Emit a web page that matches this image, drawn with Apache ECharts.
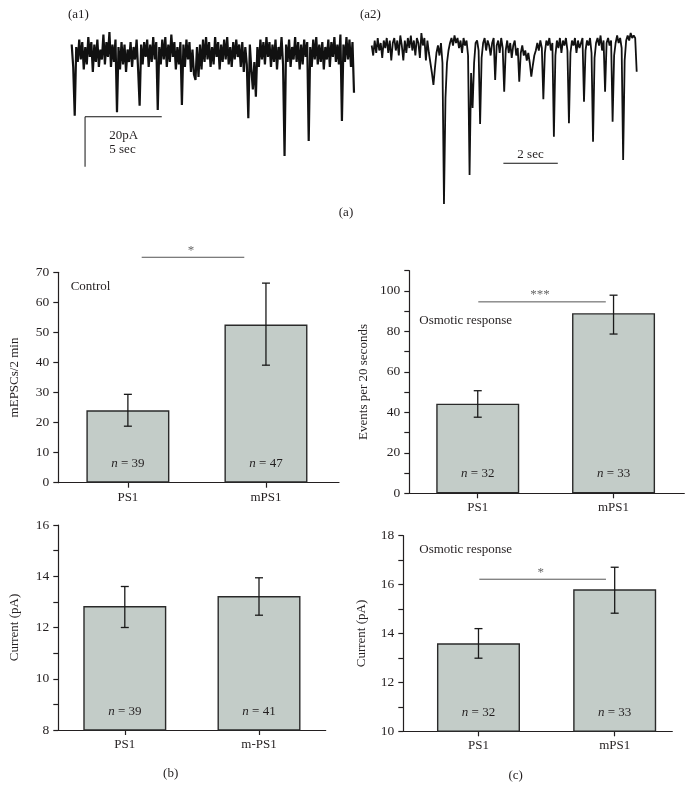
<!DOCTYPE html>
<html>
<head>
<meta charset="utf-8">
<script src="https://cdn.jsdelivr.net/npm/echarts@6/dist/echarts.min.js"></script>
<style>html,body{margin:0;padding:0;background:#fff}#c{width:693px;height:801px}</style>
</head>
<body>
<div id="c"></div>
<script>
// ---------- trace data (pA relative to baseline) ----------
const a1Duration = 18.4; // s
const a1Current = [
 3,-6,-25.5,2,-4,5,-3,4,-7,2,
 -5,6,-2,4,-8,3,-4,5,-6,1,
 -3,7,-5,4,-2,8,-6,3,-4,5,
 -24.1,2,-7,4,-5,3,-8,1,-4,4,
 -6,2,-3,5,-7,-21.5,3,-5,4,-2,
 5,-6,3,-4,6,-3,4,-23.2,2,-5,
 5,-3,6,-6,3,-4,7,-2,4,-7,
 2,-5,4,-21.2,3,-6,5,-3,4,-8,
 1,-9,-11.2,2,-10,3,-7,5,-4,6,
 -3,4,-6,2,-5,6,-2,4,-7,3,
 -4,5,-3,6,-5,2,-6,4,-3,5,
 -2,3,-6,4,-8,2,-5,-26.5,3,-7,
 -15,-4,-17.9,2,-6,5,-3,4,-5,6,
 -2,4,-6,3,-4,5,-7,2,-3,6,
 -5,-41.6,3,-4,5,-6,2,-3,6,-4,
 4,-7,3,-5,5,-2,4,-35.6,2,-6,
 5,-3,6,-5,3,-4,4,-7,2,-3,
 5,-6,4,-2,6,-4,3,-5,7,-27.6,
 3,-4,6,-3,5,-6,4,-16.3
];
const a2Duration = 9.74; // s
const a2Current = [
 1,-3,3,-2,4,-1,2,-4,3,0,
 4,-2,3,-5,2,4,-1,3,-3,5,
 1,-5,3,-2,4,0,5,-1,3,-3,
 4,2,-4,6,1,4,-5,3,-2,-6,
 -10,-14.8,-8,-2,1,-3,2,-6,-62.4,-20,
 -6,-1,2,4,1,5,2,4,0,3,
 -2,4,1,3,-3,-50.8,-10,-24,-6,2,
 3,-1,-30.4,-4,2,4,-1,3,1,-3,
 2,4,-12.8,1,3,-2,4,0,-17.5,-1,
 3,-2,2,-4,1,3,-3,0,-13.5,-2,
 1,-3,-1,-5,-2,-6,-11.5,-7,-3,-1,
 2,-1,3,0,-20.5,-2,3,1,4,-1,
 2,-35.5,-3,3,0,4,-2,3,1,4,
 -1,-30.1,-2,3,1,4,-2,3,0,2,
 4,-21.5,-1,3,1,4,-2,-37.5,-4,2,
 4,1,5,-1,3,-17.5,2,4,1,3,
 -29.5,-3,2,5,2,4,0,-44.8,-5,3,
 5,3,6,4,5,4,-9.5
];
const a1ScalePA = 20, a1ScaleSec = 5;
const a2ScaleSec = 2;

// ---------- bar data ----------
const catsB = ['PS1', 'mPS1'];
const catsB2 = ['PS1', 'm-PS1'];
const catsC = ['PS1', 'mPS1'];

const controlFreq = [24.1, 52.6];
const controlFreqHi = [29.4, 66.4];
const controlFreqLo = [18.8, 39.1];
const controlFreqN = [39, 47];

const osmFreq = [44.3, 89.0];
const osmFreqHi = [50.7, 97.9];
const osmFreqLo = [37.6, 78.7];
const osmFreqN = [32, 33];

const controlAmp = [12.84, 13.23];
const controlAmpHi = [13.6, 13.94];
const controlAmpLo = [12.0, 12.48];
const controlAmpN = [39, 41];

const osmAmp = [13.6, 15.81];
const osmAmpHi = [14.2, 16.71];
const osmAmpLo = [12.99, 14.83];
const osmAmpN = [32, 33];

const sigB = [0.10, 0.843, 75, '*'];
const sigCtop = [0.004, 0.943, 94.6, '***'];
const sigCbot = [0.006, 0.936, 16.22, '*'];

// ---------- build ----------
const FONT = '"Liberation Serif", "DejaVu Serif", serif';
const TXT = '#231f20';
const BARC = '#c3ccc8';

const chart = echarts.init(document.getElementById('c'), null, {renderer: 'canvas'});

function traceData(arr, dur) {
  const dt = dur / (arr.length - 1);
  return arr.map((v, i) => [i * dt, v]);
}

const grids = [
  {left: 71.7, top: 27, width: 282.3, height: 145},
  {left: 371.7, top: 28, width: 265, height: 182.5},
  {left: 58.3, top: 272.3, width: 280.7, height: 210.4},
  {left: 409.3, top: 270.7, width: 275, height: 222.6},
  {left: 58.3, top: 525, width: 267.4, height: 205},
  {left: 403.3, top: 535.7, width: 269, height: 195.6}
];

const xAxes = [
  {gridIndex: 0, type: 'value', min: 0, max: a1Duration, show: false},
  {gridIndex: 1, type: 'value', min: 0, max: a2Duration, show: false}
];
const yAxes = [
  {gridIndex: 0, type: 'value', min: -48, max: 10, show: false},
  {gridIndex: 1, type: 'value', min: -65, max: 8, show: false}
];

const axisLineStyle = {color: '#231f20', width: 1.2};
function barX(gi, min, max, cats) {
  return {
    gridIndex: gi, type: 'value', min: min, max: max,
    splitLine: {show: false},
    axisLine: {show: true, onZero: false, lineStyle: axisLineStyle},
    axisTick: {show: true, customValues: [0, 1], length: 5, lineStyle: axisLineStyle},
    axisLabel: {customValues: [0, 1], formatter: v => cats[Math.round(v)], fontFamily: FONT, fontSize: 13, color: TXT, margin: 8}
  };
}
function barY(gi, min, max, interval, labelStep, name, gap) {
  return {
    gridIndex: gi, type: 'value', min: min, max: max, interval: interval,
    name: name, nameLocation: 'middle', nameGap: gap,
    nameTextStyle: {fontFamily: FONT, fontSize: 13, color: TXT},
    splitLine: {show: false},
    axisLine: {show: true, onZero: false, lineStyle: axisLineStyle},
    axisTick: {show: true, length: 5, lineStyle: axisLineStyle},
    axisLabel: {
      fontFamily: FONT, fontSize: 13.5, color: TXT, margin: 9,
      formatter: v => {
        const r = Math.round(v * 1000) / 1000;
        return (Math.abs((r - min) % labelStep) < 1e-6) ? String(r) : '';
      }
    }
  };
}

xAxes.push(barX(2, -0.504, 1.529, catsB));
xAxes.push(barX(3, -0.504, 1.521, catsC));
xAxes.push(barX(4, -0.4955, 1.497, catsB2));
xAxes.push(barX(5, -0.552, 1.423, catsC));

yAxes.push(barY(2, 0, 70, 10, 10, 'mEPSCs/2 min', 37));
const yc = barY(3, 0, 110, 10, 20, 'Events per 20 seconds', 39);
yc.axisLabel.formatter = v => (v % 20 === 0 && v <= 100) ? String(v) : '';
yAxes.push(yc);
yAxes.push(barY(4, 8, 16, 1, 2, 'Current (pA)', 37));
yAxes.push(barY(5, 10, 18, 1, 2, 'Current (pA)', 35));

const series = [];
series.push({type: 'line', xAxisIndex: 0, yAxisIndex: 0, data: traceData(a1Current, a1Duration), showSymbol: false, lineStyle: {color: '#111', width: 2.2}, animation: false, silent: true});
series.push({type: 'line', xAxisIndex: 1, yAxisIndex: 1, data: traceData(a2Current, a2Duration), showSymbol: false, lineStyle: {color: '#111', width: 1.8}, animation: false, silent: true});
// scale bars
series.push({type: 'line', xAxisIndex: 0, yAxisIndex: 0, data: [[0.87 + a1ScaleSec, -25.9], [0.87, -25.9], [0.87, -25.9 - a1ScalePA]], showSymbol: false, lineStyle: {color: '#111', width: 1}, animation: false, silent: true});
series.push({type: 'line', xAxisIndex: 1, yAxisIndex: 1, data: [[4.84, -46.1], [4.84 + a2ScaleSec, -46.1]], showSymbol: false, lineStyle: {color: '#111', width: 1}, animation: false, silent: true});

function addBarPanel(gi, vals, hi, lo, ns, sig) {
  series.push({
    type: 'bar', xAxisIndex: gi, yAxisIndex: gi, barWidth: 83,
    data: vals.map((v, i) => [i, v]),
    itemStyle: {color: BARC, borderColor: '#2a2a2a', borderWidth: 1.4},
    label: {
      show: true, position: 'insideBottom', distance: 13,
      formatter: p => '{i|n} = ' + ns[p.dataIndex],
      fontFamily: FONT, fontSize: 13, color: TXT,
      rich: {i: {fontStyle: 'italic', fontFamily: FONT, fontSize: 13, color: TXT}}
    },
    animation: false, silent: true
  });
  series.push({
    type: 'custom', xAxisIndex: gi, yAxisIndex: gi,
    data: vals.map((v, i) => [i, hi[i], lo[i]]),
    encode: {x: 0, y: [1, 2]},
    renderItem: (params, api) => {
      const t = api.coord([api.value(0), api.value(1)]);
      const b = api.coord([api.value(0), api.value(2)]);
      const h = 4;
      const st = {stroke: '#1a1a1a', lineWidth: 1.3};
      return {type: 'group', children: [
        {type: 'line', shape: {x1: t[0], y1: t[1], x2: b[0], y2: b[1]}, style: st},
        {type: 'line', shape: {x1: t[0] - h, y1: t[1], x2: t[0] + h, y2: t[1]}, style: st},
        {type: 'line', shape: {x1: b[0] - h, y1: b[1], x2: b[0] + h, y2: b[1]}, style: st}
      ]};
    },
    z: 5, animation: false, silent: true
  });
  if (sig) {
    series.push({
      type: 'custom', xAxisIndex: gi, yAxisIndex: gi, clip: false,
      data: [[sig[0], sig[1], sig[2]]],
      renderItem: (params, api) => {
        const p1 = api.coord([api.value(0), api.value(2)]);
        const p2 = api.coord([api.value(1), api.value(2)]);
        return {type: 'group', children: [
          {type: 'line', shape: {x1: p1[0], y1: p1[1], x2: p2[0], y2: p2[1]}, style: {stroke: '#555', lineWidth: 1}},
          {type: 'text', x: (p1[0] + p2[0]) / 2 - 2, y: p1[1] - 7, style: {text: sig[3], fill: '#666', font: '13px ' + FONT, align: 'center', verticalAlign: 'middle'}}
        ]};
      },
      z: 6, animation: false, silent: true
    });
  }
}
addBarPanel(2, controlFreq, controlFreqHi, controlFreqLo, controlFreqN, sigB);
addBarPanel(3, osmFreq, osmFreqHi, osmFreqLo, osmFreqN, sigCtop);
addBarPanel(4, controlAmp, controlAmpHi, controlAmpLo, controlAmpN, null);
addBarPanel(5, osmAmp, osmAmpHi, osmAmpLo, osmAmpN, sigCbot);

function txt(x, y, s, align, size) {
  return {type: 'text', x: x, y: y, style: {text: s, fill: TXT, font: (size || 13) + 'px ' + FONT, align: align || 'left', verticalAlign: 'middle'}, silent: true};
}

chart.setOption({
  animation: false,
  backgroundColor: '#fff',
  grid: grids,
  xAxis: xAxes,
  yAxis: yAxes,
  series: series,
  graphic: [
    txt(68, 15, '(a1)'),
    txt(360, 15, '(a2)'),
    txt(346, 213, '(a)', 'center'),
    txt(109.3, 136, '20pA'),
    txt(109.3, 150, '5 sec'),
    txt(530.5, 154.3, '2 sec', 'center'),
    txt(70.7, 287, 'Control'),
    txt(419.3, 321, 'Osmotic response'),
    txt(419.3, 549.5, 'Osmotic response'),
    txt(170.7, 774, '(b)', 'center'),
    txt(515.7, 776, '(c)', 'center')
  ]
});
</script>
</body>
</html>
